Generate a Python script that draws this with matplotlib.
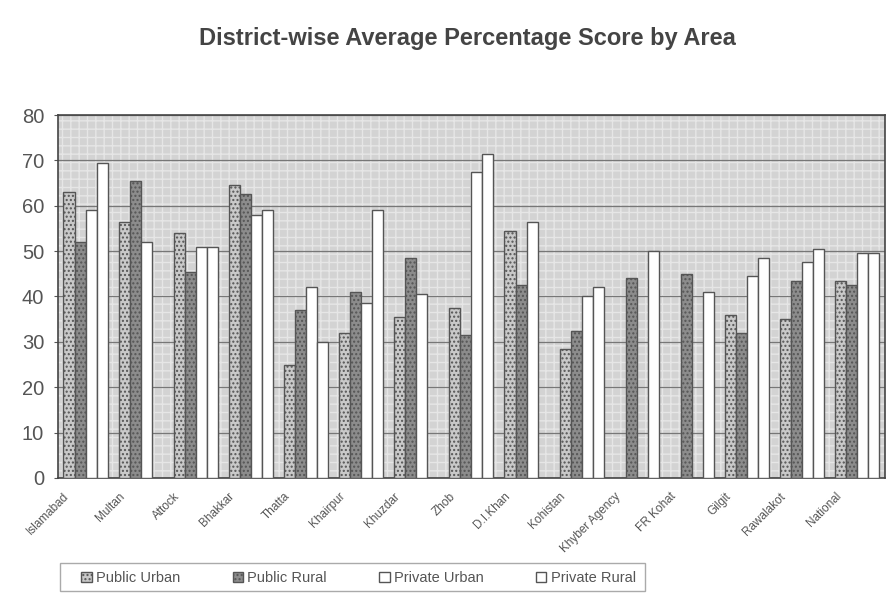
import numpy as np
import matplotlib.pyplot as plt
from matplotlib.patches import Rectangle
from matplotlib.transforms import ScaledTranslation

plt.rcParams['font.family'] = ['Liberation Sans', 'DejaVu Sans']

districts = ["Islamabad", "Multan", "Attock", "Bhakkar", "Thatta", "Khairpur",
             "Khuzdar", "Zhob", "D.I.Khan", "Kohistan", "Khyber Agency",
             "FR Kohat", "Gilgit", "Rawalakot", "National"]
series = ["Public Urban", "Public Rural", "Private Urban", "Private Rural"]

nan = np.nan
public_urban = [63, 56.5, 54, 64.5, 25, 32, 35.5, 37.5, 54.5, 28.5, nan, nan, 36, 35, 43.5]
public_rural = [52, 65.5, 45.5, 62.5, 37, 41, 48.5, 31.5, 42.5, 32.5, 44, 45, 32, 43.5, 42.5]
private_urban = [59, 52, 51, 58, 42, 38.5, 40.5, 67.5, 56.5, 40, nan, nan, 44.5, 47.5, 49.5]
private_rural = [69.5, nan, 51, 59, 30, 59, nan, 71.5, nan, 42, 50, 41, 48.5, 50.5, 49.5]

values = [public_urban, public_rural, private_urban, private_rural]
faces = ["#c9c9c9", "#8c8c8c", "#ffffff", "#ffffff"]
hatches = ["....", "....", "", ""]

fig = plt.figure(figsize=(8.92, 5.93), dpi=100)
ax = fig.add_axes([0.065, 0.194, 0.927, 0.612])

# textured grey plot area
ax.set_facecolor("#d3d3d3")
ax.add_patch(Rectangle((0, 0), 1, 1, transform=ax.transAxes, facecolor="none",
                       edgecolor="#e6e6e6", hatch="++", linewidth=0, zorder=0))

x = np.arange(len(districts))
w = 0.2
for i, (vals, name) in enumerate(zip(values, series)):
    ax.bar(x + (i - 1.5) * w, vals, width=w, color=faces[i], hatch=hatches[i],
           edgecolor="#555555", linewidth=1.0, label=name, zorder=3)

ax.set_ylim(0, 80)
ax.set_xlim(-0.5, len(districts) - 0.5)
ax.set_yticks(range(0, 81, 10))
ax.yaxis.grid(True, color="#777777", linewidth=0.9, zorder=1)
ax.set_axisbelow(True)
ax.tick_params(axis="y", labelsize=14.5, colors="#555555", length=3, pad=7)
ax.set_xticks(x)
ax.set_xticklabels(districts, rotation=45, ha="right", fontsize=8.5, color="#555555")
ax.tick_params(axis="x", length=0, pad=9)
shift = ScaledTranslation(-10 / 72, 0, fig.dpi_scale_trans)
for lab in ax.get_xticklabels():
    lab.set_transform(lab.get_transform() + shift)
for s in ax.spines.values():
    s.set_color("#444444")
    s.set_linewidth(1.2)

fig.suptitle("District-wise Average Percentage Score by Area", x=0.524, y=0.955,
             fontsize=17, fontweight="bold", color="#444444")

# legend box drawn separately, entries spread across it
fig.patches.append(Rectangle((0.067, 0.003), 0.656, 0.047, transform=fig.transFigure,
                             facecolor="white", edgecolor="#aaaaaa", linewidth=1))
leg = fig.legend(loc="lower left", bbox_to_anchor=(0.088, 0.008, 0.628, 0.04),
                 ncol=4, mode="expand", fontsize=10.5, frameon=False,
                 handlelength=0.7, handleheight=0.7, handletextpad=0.3,
                 borderaxespad=0, borderpad=0.2)
for t in leg.get_texts():
    t.set_color("#555555")

fig.savefig("out.png", dpi=100)
